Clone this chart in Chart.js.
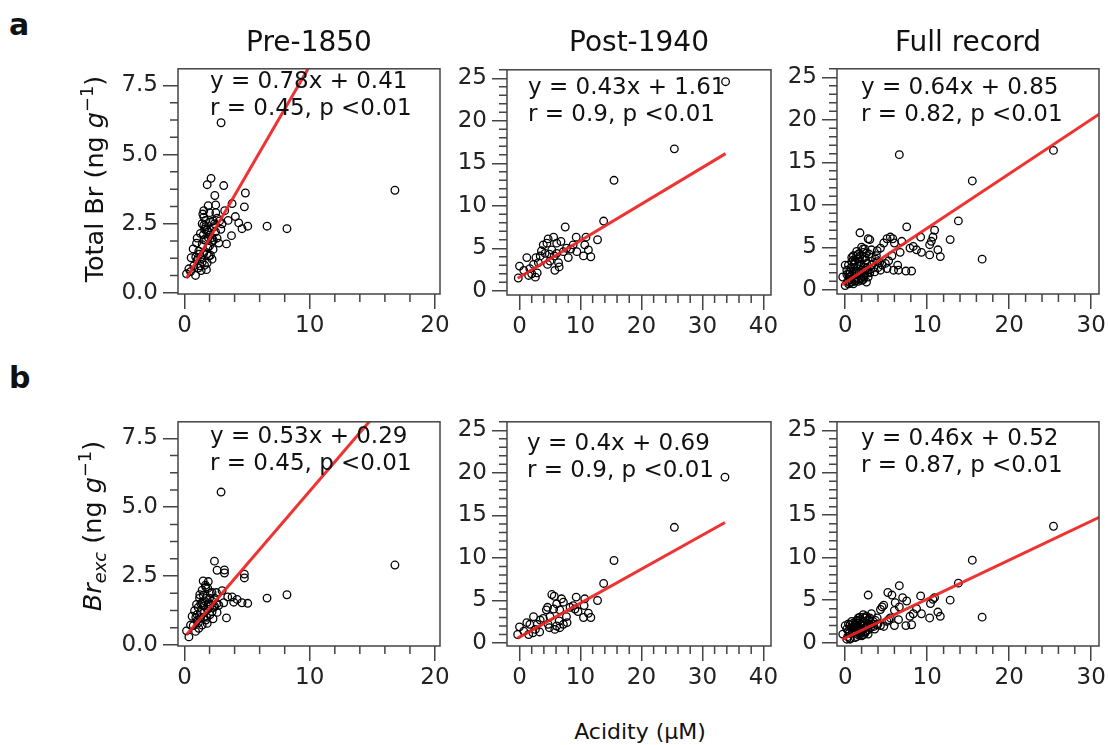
<!DOCTYPE html>
<html>
<head>
<meta charset="utf-8">
<script src="https://cdn.jsdelivr.net/npm/chart.js@4.4.0/dist/chart.umd.min.js"></script>
<style>
  body { margin: 0; background: #fff; overflow: hidden; }
  #fig { position: relative; width: 1108px; height: 745px; overflow: hidden; font-family: 'DejaVu Sans', sans-serif; color: #111; }
  #fig canvas { position: absolute; }
  .txt { position: absolute; white-space: nowrap; line-height: 1; }
  .eq { position: absolute; white-space: nowrap; font-size: 23px; line-height: 27px; }
  .ttl { font-size: 28px; transform: translateX(-50%); }
  .pl { font-size: 30px; font-weight: bold; }
  .yl { font-size: 25.5px; transform: translate(-50%, -50%) rotate(-90deg); }
  sup { font-size: 0.7em; vertical-align: 0.55em; line-height: 0; }
  sub { font-size: 0.7em; vertical-align: -0.25em; line-height: 0; }
</style>
</head>
<body>
<div id="fig">
  <div class="txt pl" style="left:9px; top:9.6px">a</div>
  <div class="txt pl" style="left:9px; top:362.6px">b</div>

  <div class="txt ttl" style="left:309px; top:28.3px">Pre-1850</div>
  <div class="txt ttl" style="left:639px; top:28.3px">Post-1940</div>
  <div class="txt ttl" style="left:968px; top:28.3px">Full record</div>

  <div class="txt yl" style="left:95px; top:179px">Total Br (ng <i>g</i><sup>−1</sup>)</div>
  <div class="txt yl" style="left:93px; top:526px"><i>Br<sub>exc</sub></i> (ng <i>g</i><sup>−1</sup>)</div>
  <div class="txt" style="left:640px; top:721px; font-size:22px; transform:translateX(-50%)">Acidity (μM)</div>

  <div class="eq" style="left:210px; top:66.8px">y = 0.78x + 0.41<br>r = 0.45, p &lt;0.01</div>
  <div class="eq" style="left:528px; top:72.8px">y = 0.43x + 1.61<br>r = 0.9, p &lt;0.01</div>
  <div class="eq" style="left:861px; top:72.5px">y = 0.64x + 0.85<br>r = 0.82, p &lt;0.01</div>
  <div class="eq" style="left:210px; top:421.8px">y = 0.53x + 0.29<br>r = 0.45, p &lt;0.01</div>
  <div class="eq" style="left:527px; top:428.5px">y = 0.4x + 0.69<br>r = 0.9, p &lt;0.01</div>
  <div class="eq" style="left:861px; top:424.2px">y = 0.46x + 0.52<br>r = 0.87, p &lt;0.01</div>
</div>

<script>
// ---- data ----
// row a: total Br vs acidity
const preAcid = [2.92, 16.8, 2.12, 1.81, 3.13, 2.42, 4.86, 4.78, 1.89, 2.49, 3.8, 3.21, 4.06, 4.33, 3.48, 5.05, 4.59, 6.59, 8.18, 3.75,
  3.35, 1.54, 1.46, 1.67, 2.07, 1.54, 2.34, 1.81, 2.47, 1.27, 2.02, 1.01, 1.54, 2.2, 2.6, 2.74, 0.96, 1.41, 1.86, 2.28,
  0.69, 1.14, 1.54, 2.07, 0.53, 1.01, 1.41, 1.81, 1.22, 0.74, 0.35, 1.75, 0.16, 0.88, 1.33, 0.48, 1.94, 2.2, 1.41, 1.54,
  1.6, 1.9, 2.3, 1.7, 2.5, 1.2, 2.9, 3.0, 1.3, 1.6, 1.8, 2.0, 2.2, 2.4, 1.5, 1.7, 2.6, 1.1, 0.9, 2.0, 1.9, 2.3, 2.8];
const preTotalBr = [6.15, 3.71, 4.14, 3.91, 3.88, 3.52, 3.61, 3.11, 3.15, 3.18, 3.23, 2.97, 2.76, 2.53, 2.62, 2.41, 2.32, 2.41, 2.32, 2.07,
  1.77, 2.97, 2.85, 2.62, 2.56, 2.44, 2.39, 2.27, 2.21, 2.15, 2.09, 1.98, 1.92, 1.86, 1.98, 1.8, 1.8, 1.74, 1.63, 1.57,
  1.59, 1.51, 1.45, 1.36, 1.27, 1.19, 1.12, 1.08, 0.98, 0.98, 0.87, 0.84, 0.69, 0.63, 0.81, 0.77, 1.33, 1.22, 2.5, 2.74,
  2.3, 2.0, 2.6, 1.9, 2.9, 1.4, 2.3, 2.5, 1.3, 1.0, 1.4, 1.7, 2.0, 2.5, 2.1, 2.4, 2.7, 0.9, 1.3, 2.9, 2.2, 1.9, 2.6];

const postAcid = [33.8, 25.4, 15.5, 13.8, 12.8, 7.5, 11.7, 11.3, 10.7, 10.9, 10.5, 9.3, 9.4, 8.4, 8.8, 7.7, 8.0, 7.2, 6.8, 6.4,
  5.8, 6.5, 5.6, 6.1, 5.3, 5.7, 5.0, 4.7, 4.5, 4.2, 4.6, 3.9, 3.6, 3.4, 3.1, 2.7, 2.3, 1.7, 1.2, 1.5,
  2.0, 2.6, 2.9, 0.0, -0.2, 0.7, 4.9, 6.1];
const postTotalBr = [24.6, 16.7, 13.0, 8.2, 6.0, 7.5, 4.0, 4.8, 5.4, 6.3, 4.1, 6.3, 4.6, 4.9, 5.4, 5.0, 3.9, 4.6, 5.8, 3.3,
  2.4, 2.8, 6.3, 5.6, 4.8, 4.1, 3.5, 6.1, 5.6, 4.4, 3.1, 5.4, 4.7, 4.1, 3.3, 3.9, 3.1, 2.6, 3.9, 1.8,
  2.0, 1.6, 2.1, 2.9, 1.5, 2.4, 4.3, 4.4];

const fullAcid = [33.8, 25.4, 15.5, 6.6, 16.7, 13.8, 12.8, 11.6, 11.3, 10.9, 10.7, 10.5, 10.3, 10.3, 9.2, 9.3, 8.7, 8.3, 7.9, 7.5,
  8.1, 7.4, 6.9, 6.7, 6.4, 5.5, 5.8, 5.1, 6.0, 5.7, 5.3, 6.5, 5.9, 4.7, 4.3, 3.9, 3.8, 3.0, 2.8, 1.8,
  2.0, 3.2, 2.4, 1.0, 1.6, 2.2, 2.4, 1.2, 1.8, 2.6, 3.2, 3.9, 4.5, 4.9, 5.1, 4.3, 3.6, 3.0, 2.4, 1.8,
  1.2, 0.6, 0.0, 0.2, -0.3, 0.6, 1.0, 0.4, 0.8, 1.6, 2.2, 2.6, 0.0, 1.0, 0.4, 1.4, 2.0, 2.6, 3.2, 1.4,
  0.8, 2.2, 1.5, 1.1, 0.7, 1.9, 2.3, 1.3,
  0.3, 0.5, 0.7, 0.9, 1.1, 1.3, 1.5, 1.7, 1.9, 2.1, 2.3, 2.5, 2.7, 2.9, 3.1, 3.3, 3.5, 3.7, 4.0, 4.2,
  0.2, 0.4, 0.8, 1.2, 1.6, 2.0, 2.4, 2.8, 1.0, 0.6, 1.4, 1.8, 2.2, 2.6];
const fullTotalBr = [24.6, 16.4, 12.8, 15.9, 3.6, 8.1, 5.9, 3.9, 4.7, 7.0, 6.2, 5.7, 5.3, 4.1, 6.2, 4.4, 4.7, 5.1, 4.9, 7.4,
  2.2, 2.2, 5.7, 4.4, 2.9, 6.2, 6.0, 6.0, 5.5, 4.0, 3.4, 2.3, 2.3, 5.5, 4.9, 4.6, 4.0, 5.9, 6.0, 6.7,
  5.0, 4.7, 4.8, 4.0, 4.2, 4.4, 3.8, 3.4, 3.3, 3.1, 2.9, 3.3, 2.9, 3.1, 2.5, 2.3, 2.1, 2.0, 1.8, 1.6,
  1.4, 1.2, 2.9, 2.3, 1.5, 2.1, 2.5, 1.8, 0.9, 1.0, 1.2, 0.9, 0.5, 0.7, 0.7, 2.0, 2.3, 2.5, 3.8, 4.0,
  3.3, 2.7, 2.8, 2.2, 1.6, 1.3, 1.9, 1.1,
  1.0, 1.5, 2.6, 1.9, 3.0, 2.2, 3.6, 2.0, 2.9, 3.6, 1.5, 3.5, 2.0, 4.2, 2.4, 3.0, 2.6, 3.6, 2.6, 3.2,
  1.8, 2.9, 3.8, 1.0, 1.3, 1.1, 2.3, 1.5, 3.5, 0.8, 4.5, 3.9, 4.8, 4.3];

// row b: Br excess vs acidity
const preAcidB = [2.92, 16.8, 6.59, 8.18, 2.39, 2.6, 3.19, 3.19, 4.78, 4.78, 3.35, 5.05, 4.59, 4.2, 3.8, 3.45, 3.93, 3.13, 3.0, 2.55,
  2.74, 1.49, 1.67, 1.86, 1.41, 2.07, 1.22, 1.75, 0.96, 1.41, 2.2, 2.34, 1.86, 0.8, 1.27, 0.61, 1.54, 2.02, 1.01, 1.41,
  0.48, 0.88, 0.16, 0.35, 1.14, 1.81, 2.28, 1.54, 1.09, 2.6, 1.6, 2.0, 1.3, 1.9, 2.4, 1.0, 1.7, 2.2,
  1.3, 1.6, 1.8, 2.0, 2.2, 1.5, 1.7, 1.1, 0.9, 2.4, 0.7, 1.2, 2.6, 1.9];
const preBrExc = [5.55, 2.9, 1.7, 1.82, 3.04, 2.71, 2.72, 2.61, 2.57, 2.43, 0.98, 1.51, 1.53, 1.65, 1.74, 1.74, 1.55, 1.53, 1.97, 1.9,
  1.44, 2.32, 2.17, 2.05, 1.99, 1.88, 1.82, 1.7, 1.47, 1.53, 1.59, 1.36, 1.3, 1.24, 1.18, 1.04, 1.01, 1.09, 0.89, 0.72,
  0.72, 0.49, 0.51, 0.29, 0.6, 0.78, 0.95, 1.41, 1.36, 1.18, 1.6, 1.4, 1.0, 2.3, 1.7, 1.1, 0.9, 1.2,
  1.5, 1.2, 1.0, 1.7, 1.9, 1.8, 2.1, 0.8, 1.0, 1.4, 0.7, 1.7, 1.5, 1.5];

const postAcidB = [33.7, 25.4, 15.5, 13.8, 12.8, 11.7, 11.3, 10.7, 10.6, 10.5, 9.3, 9.6, 8.8, 8.3, 7.7, 7.8, 7.2, 6.9, 6.6, 6.5,
  6.1, 5.8, 5.3, 5.7, 6.1, 5.6, 5.0, 4.7, 4.6, 4.4, 3.9, 3.4, 2.9, 2.6, 2.2, 2.3, 1.7, 1.2, 1.5, 0.0,
  -0.3, 0.7, 3.3, 4.9, 6.6, 7.2, 9.1];
const postBrExc = [19.5, 13.6, 9.7, 7.0, 5.0, 3.0, 3.5, 5.2, 4.4, 3.0, 5.4, 3.7, 4.4, 4.2, 3.1, 2.4, 4.8, 5.2, 3.9, 2.6,
  2.0, 1.6, 5.7, 5.5, 4.6, 4.0, 3.1, 2.2, 4.2, 3.9, 2.9, 2.7, 2.2, 1.6, 1.2, 3.1, 2.2, 2.4, 1.0, 1.9,
  1.0, 1.4, 1.3, 1.8, 1.8, 2.2, 4.0];

const fullAcidB = [33.7, 25.4, 15.5, 16.7, 13.8, 12.8, 11.6, 11.3, 10.9, 10.7, 10.4, 10.3, 9.2, 9.3, 8.7, 8.3, 7.9, 7.5, 7.4, 8.1,
  7.0, 6.6, 6.6, 6.5, 6.1, 5.7, 5.2, 6.0, 5.5, 6.0, 4.7, 4.5, 4.3, 2.8, 3.2, 3.9, 5.1, 4.7, 4.3, 3.6,
  3.0, 2.4, 2.2, 1.8, 1.4, 1.0, 0.6, 0.0, -0.3, 0.4, 1.0, 1.6, 2.2, 2.6, 2.8, 2.2, 1.4, 0.6, 0.2, 1.8,
  3.4, 3.9, 1.6, 1.2, 3.0, 5.3, 2.92, 0.9, 1.9, 2.4, 1.3,
  0.3, 0.5, 0.7, 0.9, 1.1, 1.3, 1.5, 1.7, 1.9, 2.1, 2.3, 2.5, 2.7, 2.9, 3.1, 3.3, 3.5, 3.7, 4.0,
  0.2, 0.4, 0.8, 1.2, 1.6, 2.0, 2.4, 2.8, 1.0, 0.6, 1.4, 1.8, 2.2, 2.6];
const fullBrExc = [19.5, 13.7, 9.7, 3.0, 7.0, 5.0, 3.1, 3.6, 5.3, 5.1, 4.6, 2.9, 5.5, 3.4, 4.0, 3.4, 3.1, 4.9, 2.0, 2.1,
  5.3, 6.7, 4.2, 2.7, 4.7, 5.6, 5.9, 3.8, 2.9, 2.0, 4.4, 4.2, 3.9, 5.6, 3.4, 2.9, 2.5, 1.9, 2.0, 1.6,
  2.1, 2.9, 3.3, 2.7, 2.5, 2.3, 2.1, 2.0, 1.0, 1.4, 1.4, 1.8, 2.0, 1.8, 1.0, 0.9, 0.7, 0.5, 0.4, 1.0,
  2.5, 2.1, 2.9, 2.1, 2.9, 2.7, 2.6, 1.2, 1.5, 1.3, 1.7,
  0.7, 1.1, 1.7, 1.2, 2.0, 1.1, 2.3, 1.4, 2.1, 1.5, 2.5, 1.3, 2.2, 2.8, 1.8, 2.2, 1.9, 2.6, 2.2,
  1.6, 2.2, 2.5, 0.6, 0.9, 0.8, 1.1, 1.5, 1.8, 0.4, 2.6, 3.0, 3.0, 3.1];

// regression line end points (from the fitted equations)
const fitPreTotalX = [0.16, 16.8],  fitPreTotalY = [0.53, 13.51];
const fitPostTotalX = [-0.3, 33.8], fitPostTotalY = [1.48, 16.14];
const fitFullTotalX = [-0.4, 33.8], fitFullTotalY = [0.59, 22.48];
const fitPreExcX = [0.16, 16.8],    fitPreExcY = [0.37, 9.19];
const fitPostExcX = [-0.3, 33.7],   fitPostExcY = [0.57, 14.17];
const fitFullExcX = [-0.4, 33.7],   fitFullExcY = [0.34, 16.02];

// tick labels
const preXTicks = [0, 10, 20];
const postXTicks = [0, 10, 20, 30, 40];
const fullXTicks = [0, 10, 20, 30];
const smallYTicks = [0, 2.5, 5, 7.5];
const bigYTicks = [0, 5, 10, 15, 20, 25];

// ---- layout ----
const Y_AXIS_W = 75, X_AXIS_H = 50, PAD_T = 10, PAD_R = 20;

const panels = [
  { box: [178, 60, 440, 294],  xs: preAcid,   ys: preTotalBr,  fx: fitPreTotalX,  fy: fitPreTotalY,  xr: [-0.52, 20.4], yr: [-0.04, 8.1], xt: preXTicks,  xm: 2, yt: smallYTicks, ym: 0.625, yd: 1 },
  { box: [507, 61, 771, 295],  xs: postAcid,  ys: postTotalBr, fx: fitPostTotalX, fy: fitPostTotalY, xr: [-2.05, 41.25], yr: [-0.5, 26.0], xt: postXTicks, xm: 2, yt: bigYTicks, ym: 1, yd: 0 },
  { box: [837, 60, 1099, 294], xs: fullAcid,  ys: fullTotalBr, fx: fitFullTotalX, fy: fitFullTotalY, xr: [-1.0, 30.95], yr: [-0.5, 26.0], xt: fullXTicks, xm: 2, yt: bigYTicks, ym: 1, yd: 0 },
  { box: [178, 413, 440, 646], xs: preAcidB,  ys: preBrExc,    fx: fitPreExcX,    fy: fitPreExcY,    xr: [-0.52, 20.4], yr: [-0.04, 8.1], xt: preXTicks,  xm: 2, yt: smallYTicks, ym: 0.625, yd: 1 },
  { box: [507, 413, 771, 646], xs: postAcidB, ys: postBrExc,   fx: fitPostExcX,   fy: fitPostExcY,   xr: [-2.05, 41.25], yr: [-0.35, 26.0], xt: postXTicks, xm: 2, yt: bigYTicks, ym: 1, yd: 0 },
  { box: [837, 413, 1099, 646],xs: fullAcidB, ys: fullBrExc,   fx: fitFullExcX,   fy: fitFullExcY,   xr: [-1.0, 30.95], yr: [-0.4, 26.0], xt: fullXTicks, xm: 2, yt: bigYTicks, ym: 1, yd: 0 }
];

function minorValues(step, max, majors) {
  const out = [];
  for (let i = 1; i * step <= max + 1e-9; i++) {
    const v = Math.round(i * step * 1000) / 1000;
    if (!majors.some(m => Math.abs(m - v) < 1e-6)) out.push(v);
  }
  return out;
}

// frame round the plot + minor ticks
const framePlugin = {
  id: 'frameMinor',
  afterDraw(chart, args, opts) {
    const { ctx, chartArea: a, scales } = chart;
    ctx.save();
    ctx.strokeStyle = '#444';
    ctx.lineWidth = 1.5;
    ctx.strokeRect(a.left, a.top, a.right - a.left, a.bottom - a.top);
    ctx.beginPath();
    opts.xMinor.forEach(v => {
      const p = scales.x.getPixelForValue(v);
      ctx.moveTo(p, a.bottom); ctx.lineTo(p, a.bottom + 8);
    });
    opts.yMinor.forEach(v => {
      const p = scales.y.getPixelForValue(v);
      ctx.moveTo(a.left, p); ctx.lineTo(a.left - 8, p);
    });
    ctx.stroke();
    ctx.restore();
  }
};

const fig = document.getElementById('fig');
const tickFont = { family: 'DejaVu Sans', size: 23 };

panels.forEach(p => {
  const [l, t, r, b] = p.box;
  const cv = document.createElement('canvas');
  const w = (r - l) + Y_AXIS_W + PAD_R;
  const h = (b - t) + PAD_T + X_AXIS_H;
  cv.width = w; cv.height = h;
  cv.style.left = (l - Y_AXIS_W) + 'px';
  cv.style.top = (t - PAD_T) + 'px';
  cv.style.width = w + 'px'; cv.style.height = h + 'px';
  fig.insertBefore(cv, fig.firstChild);

  const pts = p.xs.map((x, i) => ({ x: x, y: p.ys[i] }));
  const fit = p.fx.map((x, i) => ({ x: x, y: p.fy[i] }));
  const grid = { drawOnChartArea: false, drawTicks: true, tickLength: 15, color: '#444', lineWidth: 1.5 };

  new Chart(cv, {
    type: 'scatter',
    data: {
      datasets: [
        { type: 'line', data: fit, borderColor: 'rgba(238,34,34,0.92)', borderWidth: 3, pointRadius: 0, showLine: true, fill: false, order: 0 },
        { data: pts, pointStyle: 'circle', pointRadius: 3.8, borderColor: '#000', backgroundColor: 'rgba(0,0,0,0)', borderWidth: 1.3, order: 1 }
      ]
    },
    options: {
      responsive: false,
      animation: false,
      devicePixelRatio: 1,
      events: [],
      layout: { padding: { top: PAD_T, right: PAD_R, left: 0, bottom: 0 } },
      plugins: {
        legend: { display: false },
        tooltip: { enabled: false },
        frameMinor: { xMinor: minorValues(p.xm, p.xr[1], p.xt), yMinor: minorValues(p.ym, p.yr[1], p.yt) }
      },
      scales: {
        x: {
          type: 'linear', min: p.xr[0], max: p.xr[1],
          grid: grid, border: { display: false },
          ticks: { font: tickFont, color: '#222', padding: 3, maxRotation: 0, autoSkip: false, callback: v => String(v) },
          afterBuildTicks: s => { s.ticks = p.xt.map(v => ({ value: v })); },
          afterFit: s => { s.height = X_AXIS_H; }
        },
        y: {
          type: 'linear', min: p.yr[0], max: p.yr[1],
          grid: grid, border: { display: false },
          ticks: { font: tickFont, color: '#222', padding: 5, autoSkip: false, callback: v => v.toFixed(p.yd) },
          afterBuildTicks: s => { s.ticks = p.yt.map(v => ({ value: v })); },
          afterFit: s => { s.width = Y_AXIS_W; }
        }
      }
    },
    plugins: [framePlugin]
  });
});
</script>
</body>
</html>
